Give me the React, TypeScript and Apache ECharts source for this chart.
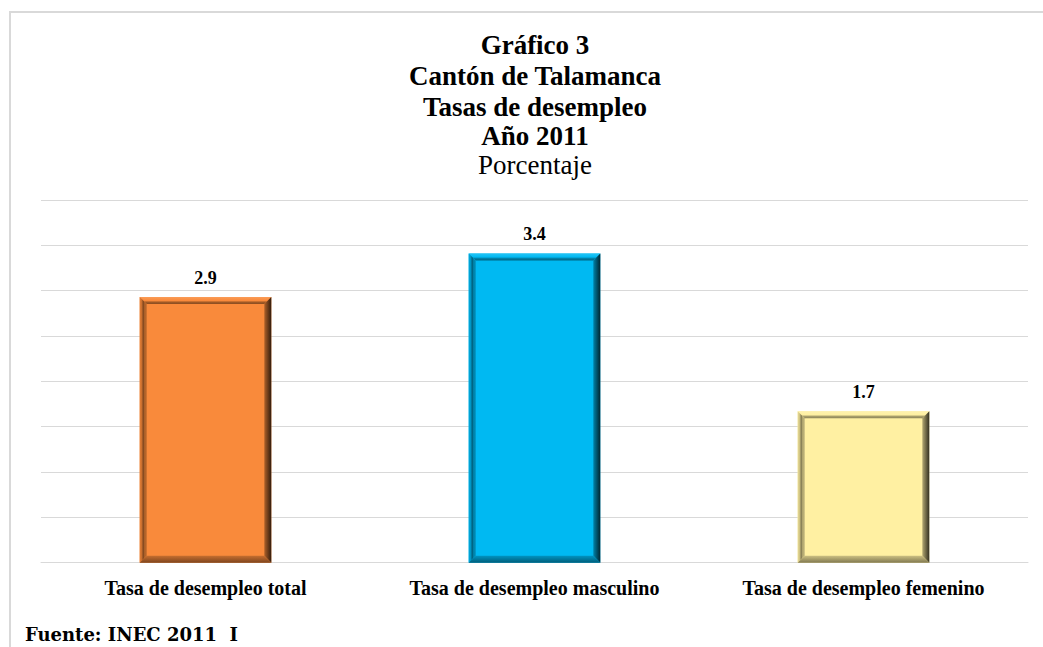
import React, { useEffect, useRef } from "react";
import * as echarts from "echarts";

const categories = [
  "Tasa de desempleo total",
  "Tasa de desempleo masculino",
  "Tasa de desempleo femenino",
];
const values = [2.93, 3.41, 1.67];
const titleLines = ["Gráfico 3", "Cantón de Talamanca", "Tasas de desempleo", "Año 2011"];
const subtitle = "Porcentaje";
const source = "Fuente: INEC 2011  I";
const faceColors = ["#F98A3B", "#00B9F2", "#FFF0A2"];

function hexToRgb(h: string) {
  const n = parseInt(h.slice(1), 16);
  return [(n >> 16) & 255, (n >> 8) & 255, n & 255];
}
function mix(h: string, t: number, target: number) {
  const c = hexToRgb(h).map((v) => Math.round(v + (target - v) * t));
  return `rgb(${c[0]},${c[1]},${c[2]})`;
}
const dark = (h: string, t: number) => mix(h, t, 0);
const light = (h: string, t: number) => mix(h, t, 255);

export default function App() {
  const ref = useRef<HTMLDivElement>(null);
  useEffect(() => {
    if (!ref.current) return;
    const chart = echarts.init(ref.current, null, { renderer: "svg" });
    const G = echarts.graphic;
    const serif = "Liberation Serif";
    const titleY = [45, 76, 106.5, 136];
    const graphics: any[] = [
      {
        type: "rect",
        shape: { x: 10, y: 12, width: 1100, height: 700 },
        style: { fill: "none", stroke: "#d9d9d9", lineWidth: 2 },
        z: 0,
      },
      ...titleLines.map((t, i) => ({
        type: "text",
        x: 535,
        y: titleY[i],
        style: {
          text: t,
          fontFamily: serif,
          fontWeight: "bold",
          fontSize: 27,
          fill: "#000",
          align: "center",
          verticalAlign: "middle",
        },
      })),
      {
        type: "text",
        x: 535,
        y: 165,
        style: {
          text: subtitle,
          fontFamily: serif,
          fontWeight: "normal",
          fontSize: 27,
          fill: "#000",
          align: "center",
          verticalAlign: "middle",
        },
      },
      {
        type: "text",
        x: 25,
        y: 634,
        style: {
          text: source,
          fontFamily: "DejaVu Serif",
          fontWeight: "bold",
          fontSize: 18,
          fill: "#000",
          align: "left",
          verticalAlign: "middle",
        },
      },
    ];

    chart.setOption({
      animation: false,
      backgroundColor: "#fff",
      grid: { left: 41, right: 15, top: 200, bottom: 84.3, containLabel: false },
      xAxis: {
        type: "category",
        data: categories,
        axisLine: { show: true, lineStyle: { color: "#d9d9d9", width: 1 } },
        axisTick: { show: false },
        axisLabel: {
          margin: 15,
          color: "#000",
          fontFamily: serif,
          fontWeight: "bold",
          fontSize: 20,
          interval: 0,
        },
      },
      yAxis: {
        type: "value",
        min: 0,
        max: 4,
        interval: 0.5,
        axisLabel: { show: false },
        axisLine: { show: false },
        axisTick: { show: false },
        splitLine: { show: true, lineStyle: { color: "#d9d9d9", width: 1 } },
      },
      graphic: graphics,
      series: [
        {
          type: "custom",
          data: values.map((v, i) => [i, v]),
          renderItem: (params: any, api: any) => {
            const idx = api.value(0);
            const v = api.value(1);
            const top = api.coord([idx, v]);
            const base = api.coord([idx, 0]);
            const bw = api.size([1, 0])[0] * 0.4;
            const x0 = top[0] - bw / 2;
            const x1 = x0 + bw;
            const yT = top[1];
            const yB = base[1];
            const b = 7;
            const face = faceColors[idx % faceColors.length];
            return {
              type: "group",
              children: [
                {
                  type: "rect",
                  shape: { x: x0, y: yT, width: bw, height: yB - yT },
                  style: { fill: face },
                },
                {
                  type: "polygon",
                  shape: { points: [[x0, yT], [x1, yT], [x1 - b, yT + b], [x0 + b, yT + b]] },
                  style: {
                    fill: new G.LinearGradient(0, 0, 0, 1, [
                      { offset: 0, color: light(face, 0.15) },
                      { offset: 0.5, color: face },
                      { offset: 0.75, color: dark(face, 0.35) },
                      { offset: 1, color: dark(face, 0.45) },
                    ]),
                  },
                },
                {
                  type: "polygon",
                  shape: { points: [[x0, yT], [x0 + b, yT + b], [x0 + b, yB - b], [x0, yB]] },
                  style: {
                    fill: new G.LinearGradient(0, 0, 1, 0, [
                      { offset: 0, color: dark(face, 0.08) },
                      { offset: 0.3, color: dark(face, 0.2) },
                      { offset: 0.5, color: dark(face, 0.5) },
                      { offset: 0.7, color: dark(face, 0.3) },
                      { offset: 1, color: dark(face, 0.25) },
                    ]),
                  },
                },
                {
                  type: "polygon",
                  shape: { points: [[x1, yT], [x1, yB], [x1 - b, yB - b], [x1 - b, yT + b]] },
                  style: {
                    fill: new G.LinearGradient(0, 0, 1, 0, [
                      { offset: 0, color: dark(face, 0.3) },
                      { offset: 0.5, color: dark(face, 0.55) },
                      { offset: 1, color: dark(face, 0.8) },
                    ]),
                  },
                },
                {
                  type: "polygon",
                  shape: { points: [[x0, yB], [x0 + b, yB - b], [x1 - b, yB - b], [x1, yB]] },
                  style: {
                    fill: new G.LinearGradient(0, 0, 0, 1, [
                      { offset: 0, color: dark(face, 0.2) },
                      { offset: 1, color: dark(face, 0.5) },
                    ]),
                  },
                },
                {
                  type: "text",
                  x: (x0 + x1) / 2,
                  y: yT - 19,
                  style: {
                    text: (Math.round(v * 10) / 10).toFixed(1),
                    fontFamily: serif,
                    fontWeight: "bold",
                    fontSize: 18,
                    fill: "#000",
                    align: "center",
                    verticalAlign: "middle",
                  },
                },
              ],
            };
          },
        },
      ],
    });
    return () => chart.dispose();
  }, []);
  return (
    <div
      ref={ref}
      style={{ position: "fixed", left: 0, top: 0, width: 1043, height: 647 }}
    />
  );
}
